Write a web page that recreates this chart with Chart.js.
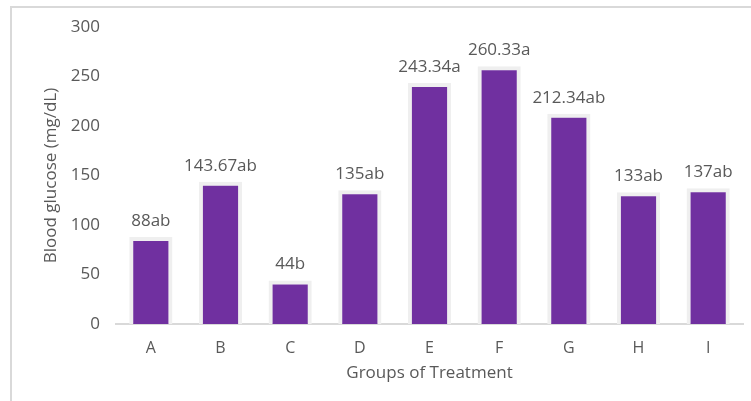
<!DOCTYPE html>
<html>
<head>
<meta charset="utf-8">
<script src="https://cdn.jsdelivr.net/npm/chart.js@4"></script>
<style>
  body { margin: 0; background: #fff; }
  #wrap { position: relative; width: 751px; height: 401px; }
  #frame { position: absolute; left: 10px; top: 6px; width: 760px; height: 420px;
           border-left: 2px solid #d9d9d9; border-top: 2px solid #d9d9d9; }
  canvas { position: absolute; left: 0; top: 0; }
</style>
</head>
<body>
<div id="wrap">
  <div id="frame"></div>
  <canvas id="glucoseChart" width="751" height="401"></canvas>
</div>
<script>
const groups = ['A', 'B', 'C', 'D', 'E', 'F', 'G', 'H', 'I'];
const glucose = [88, 143.67, 44, 135, 243.34, 260.33, 212.34, 133, 137];
const labels = ['88ab', '143.67ab', '44b', '135ab', '243.34a', '260.33a', '212.34ab', '133ab', '137ab'];

const fontFamily = '"Open Sans", sans-serif';
const textColor = '#595959';

// draw the value labels above each bar
const barLabels = {
    id: 'barLabels',
    afterDatasetsDraw(chart) {
        const ctx = chart.ctx;
        const meta = chart.getDatasetMeta(0);
        ctx.save();
        ctx.font = '17px ' + fontFamily;
        ctx.fillStyle = textColor;
        ctx.textAlign = 'center';
        ctx.textBaseline = 'alphabetic';
        meta.data.forEach(function(bar, i) {
            ctx.fillText(labels[i], bar.x, bar.y - 11);
        });
        ctx.restore();
    }
};

new Chart(document.getElementById('glucoseChart'), {
    type: 'bar',
    data: {
        labels: groups,
        datasets: [{
            data: glucose,
            backgroundColor: '#7030a0',
            borderColor: '#efefef',
            borderWidth: 4,
            borderSkipped: 'bottom',
            barPercentage: 0.62,
            categoryPercentage: 1
        }]
    },
    options: {
        responsive: false,
        animation: false,
        layout: { padding: { top: 27, right: 8, left: 0, bottom: 0 } },
        plugins: {
            legend: { display: false },
            tooltip: { enabled: false }
        },
        scales: {
            x: {
                grid: { display: false },
                border: { display: true, color: '#d9d9d9', width: 2 },
                ticks: { color: textColor, font: { family: fontFamily, size: 16 }, padding: 7 },
                title: {
                    display: true,
                    text: 'Groups of Treatment',
                    color: textColor,
                    font: { family: fontFamily, size: 17 },
                    padding: { top: 0, bottom: 18 }
                },
                afterFit: function(scale) { scale.height = 77; }
            },
            y: {
                min: 0,
                max: 300,
                ticks: { stepSize: 50, color: textColor, font: { family: fontFamily, size: 17 }, padding: 16 },
                grid: { display: false, drawTicks: false },
                border: { display: false },
                title: {
                    display: true,
                    text: 'Blood glucose (mg/dL)',
                    color: textColor,
                    font: { family: fontFamily, size: 17 },
                    padding: { top: 41, bottom: 0 }
                },
                afterFit: function(scale) { scale.width = 116; }
            }
        }
    },
    plugins: [barLabels]
});
</script>
</body>
</html>
